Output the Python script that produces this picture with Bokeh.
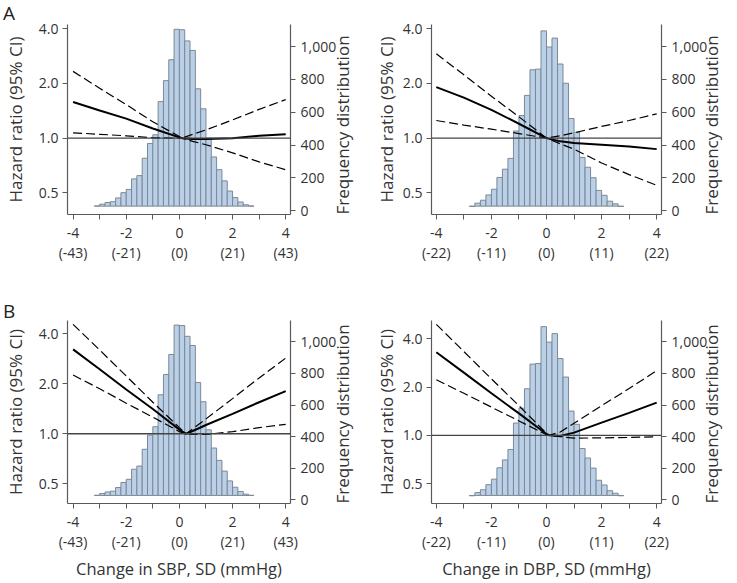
import math
from bokeh.plotting import figure
from bokeh.models import (Range1d, LinearAxis, LinearScale, FixedTicker, PrintfTickFormatter,
                          NumeralTickFormatter, Span, Div)
from bokeh.layouts import column, row
from bokeh.embed import file_html
from bokeh.resources import INLINE

# ---------------- data ----------------
X_TICKS = [-4, -2, 0, 2, 4]
X_MINOR = [-3, -1, 1, 3]
SBP_MMHG = ["(-43)", "(-21)", "(0)", "(21)", "(43)"]
DBP_MMHG = ["(-22)", "(-11)", "(0)", "(11)", "(22)"]
HR_TICKS = [0.5, 1.0, 2.0, 4.0]
FREQ_TICKS = [0, 200, 400, 600, 800, 1000]

BIN_WIDTH = 0.2
HIST_BASE = 28
SBP_BIN_START = -3.2
SBP_COUNTS = [29, 40, 50, 55, 78, 110, 130, 194, 214, 320, 410, 463, 665, 793, 920,
              1106, 1103, 1035, 977, 743, 621, 443, 328, 250, 182, 120, 80, 53, 36, 29]
DBP_BIN_START = -2.8
DBP_COUNTS = [26, 46, 64, 96, 131, 203, 253, 319, 486, 580, 703, 859, 863, 1096,
              998, 1052, 894, 777, 562, 478, 325, 265, 201, 124, 94, 58, 42, 26]

# Panel A, SBP
A_SBP_X = [-4, -3, -2, -1, 0, 0.1, 0.5, 1, 2, 3, 4]
A_SBP_HR = [1.58, 1.42, 1.28, 1.13, 1.01, 1.0, 0.99, 0.99, 1.0, 1.03, 1.05]
A_SBP_HI = [2.33, 1.88, 1.53, 1.23, 1.02, 1.0, 1.05, 1.11, 1.26, 1.44, 1.63]
A_SBP_LO = [1.07, 1.05, 1.03, 1.005, 1.0, 1.0, 0.96, 0.92, 0.83, 0.74, 0.67]

# Panel A, DBP
A_DBP_X = [-4, -3, -2, -1, 0, 0.5, 1, 2, 3, 4]
A_DBP_HR = [1.91, 1.67, 1.43, 1.20, 1.0, 0.96, 0.94, 0.92, 0.90, 0.87]
A_DBP_HI = [2.91, 2.23, 1.70, 1.31, 1.0, 1.03, 1.07, 1.16, 1.25, 1.36]
A_DBP_LO = [1.25, 1.18, 1.12, 1.06, 1.0, 0.93, 0.87, 0.73, 0.63, 0.55]

# Panel B, SBP
B_SBP_X = [-4, -3, -2, -1, 0, 0.25, 0.5, 1, 2, 3, 4]
B_SBP_HR = [3.23, 2.45, 1.85, 1.41, 1.06, 1.0, 1.04, 1.13, 1.32, 1.55, 1.81]
B_SBP_HI = [4.57, 3.20, 2.23, 1.55, 1.09, 1.0, 1.07, 1.23, 1.63, 2.17, 2.86]
B_SBP_LO = [2.26, 1.87, 1.53, 1.26, 1.03, 1.0, 0.99, 0.99, 1.03, 1.09, 1.14]

# Panel B, DBP
B_DBP_X = [-4, -3, -2, -1, 0, 0.1, 0.5, 1, 2, 3, 4]
B_DBP_HR = [3.30, 2.46, 1.83, 1.37, 1.02, 1.0, 0.99, 1.04, 1.20, 1.38, 1.60]
B_DBP_HI = [4.92, 3.33, 2.25, 1.53, 1.03, 1.0, 1.05, 1.19, 1.53, 1.96, 2.53]
B_DBP_LO = [2.22, 1.83, 1.50, 1.23, 1.01, 1.0, 0.98, 0.96, 0.965, 0.97, 0.98]

# ---------------- style ----------------
FONT = "Open Sans"
TXT = "#333333"
AX = "#5a5a5a"
BAR_FILL = "#b9d0e8"
BAR_LINE = "#7d8893"


def style_axis(ax, label_size="17px"):
    ax.axis_line_color = AX
    ax.axis_line_width = 1.2
    ax.major_tick_line_color = AX
    ax.major_tick_out = 5
    ax.major_tick_in = 0
    ax.minor_tick_line_color = None
    ax.major_label_text_font = FONT
    ax.major_label_text_font_size = "14px"
    ax.major_label_text_color = TXT
    ax.major_label_standoff = 4
    ax.axis_label_text_font = FONT
    ax.axis_label_text_font_size = label_size
    ax.axis_label_text_font_style = "normal"
    ax.axis_label_text_color = TXT


def make_panel(bin_start, counts, cx, hr, hi, lo, mmhg, yr, xr, xlabel,
               width, height, bl, br, bt, bb, ylab_standoff, rlab_standoff):
    p = figure(width=width, height=height, output_backend="svg", toolbar_location=None,
               y_axis_type="log", x_range=Range1d(*xr), y_range=Range1d(*yr),
               min_border_left=bl, min_border_right=br, min_border_top=bt,
               min_border_bottom=bb, outline_line_color=None, background_fill_color="white")
    p.xgrid.visible = False
    p.ygrid.visible = False
    p.extra_y_ranges = {"freq": Range1d(-23, 1135)}
    p.extra_y_scales = {"freq": LinearScale()}

    lefts = [bin_start + i * BIN_WIDTH for i in range(len(counts))]
    rights = [l + BIN_WIDTH for l in lefts]
    p.quad(left=lefts, right=rights, bottom=HIST_BASE, top=counts, y_range_name="freq",
           fill_color=BAR_FILL, line_color=BAR_LINE, line_width=1)

    p.add_layout(Span(location=1.0, dimension="width", line_color="#444444", line_width=1.4))

    p.line(cx, hi, line_color="black", line_width=1.2, line_dash="9 4")
    p.line(cx, lo, line_color="black", line_width=1.2, line_dash="9 4")
    p.line(cx, hr, line_color="black", line_width=2)

    # x axis
    xa = p.xaxis[0]
    style_axis(xa, "16.5px")
    xa.ticker = FixedTicker(ticks=X_TICKS, minor_ticks=X_MINOR)
    xa.minor_tick_line_color = AX
    xa.minor_tick_out = 5
    xa.minor_tick_in = 0
    xa.major_label_standoff = 3
    xa.major_label_text_line_height = 1.1
    xa.major_label_overrides = {t: f"{t}\n{m}" for t, m in zip(X_TICKS, mmhg)}
    if xlabel:
        xa.axis_label = xlabel
        xa.axis_label_standoff = 3

    # left y axis
    ya = p.yaxis[0]
    style_axis(ya)
    ya.ticker = FixedTicker(ticks=HR_TICKS)
    ya.formatter = PrintfTickFormatter(format="%.1f")
    ya.axis_label = "Hazard ratio (95% CI)"
    ya.axis_label_standoff = ylab_standoff

    # right y axis
    ra = LinearAxis(y_range_name="freq")
    style_axis(ra)
    ra.ticker = FixedTicker(ticks=FREQ_TICKS)
    ra.formatter = NumeralTickFormatter(format="0,0")
    ra.major_label_standoff = 5
    ra.axis_label = "Frequency distribution"
    ra.axis_label_standoff = rlab_standoff
    try:
        ra.axis_label_orientation = math.pi / 2
        ra.axis_label_align = "start"
    except Exception:
        pass
    p.add_layout(ra, "right")
    return p


def letter_div(letter, height):
    return Div(text=f'<div style="font-family:\'Open Sans\';font-size:19px;line-height:normal;'
                    f'padding-left:3px;margin:0;color:#222222;">{letter}</div>',
               width=737, height=height, margin=0)


XR_L = (-4.21, 4.18)
XR_R = (-4.175, 4.175)

a1 = make_panel(SBP_BIN_START, SBP_COUNTS, A_SBP_X, A_SBP_HR, A_SBP_HI, A_SBP_LO, SBP_MMHG,
                (0.38, 4.22), XR_L, None, 368, 278, 59, 71, 4, 84, 9, 3)
a2 = make_panel(DBP_BIN_START, DBP_COUNTS, A_DBP_X, A_DBP_HR, A_DBP_HI, A_DBP_LO, DBP_MMHG,
                (0.38, 4.22), XR_R, None, 369, 278, 63, 68, 4, 84, 2, 1)
b1 = make_panel(SBP_BIN_START, SBP_COUNTS, B_SBP_X, B_SBP_HR, B_SBP_HI, B_SBP_LO, SBP_MMHG,
                (0.38, 4.82), XR_L, "Change in SBP, SD (mmHg)", 368, 263, 59, 71, 0, 73, 9, 3)
b2 = make_panel(DBP_BIN_START, DBP_COUNTS, B_DBP_X, B_DBP_HR, B_DBP_HI, B_DBP_LO, DBP_MMHG,
                (0.376, 5.2), XR_R, "Change in DBP, SD (mmHg)", 369, 263, 63, 68, 0, 73, 2, 1)

layout = column(letter_div("A", 20), row(a1, a2), letter_div("B", 22), row(b1, b2))

with open("out.html", "w") as f:
    f.write(file_html(layout, INLINE))
